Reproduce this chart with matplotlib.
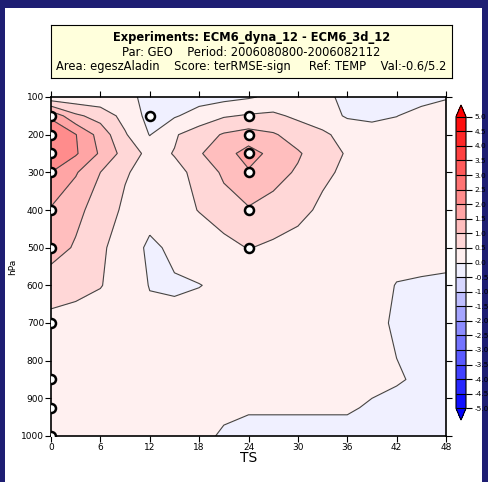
import numpy as np
import matplotlib
matplotlib.use('Agg')
import matplotlib.pyplot as plt
from matplotlib.patches import Rectangle

plt.rcParams['font.family'] = ['DejaVu Sans']

# grid of the score field
hours = [0, 3, 6, 9, 12, 15, 18, 21, 24, 27, 30, 33, 36, 39, 42, 45, 48]
levels_hpa = [100, 150, 200, 250, 300, 400, 500, 600, 700, 850, 925, 1000]

# values, one row per pressure level
score = [
    [0.15, 0.15, 0.15, 0.10, -0.10, -0.20, -0.20, -0.15, -0.05, 0.10, 0.20, 0.10, -0.10, -0.20, -0.20, -0.15, -0.05],
    [1.90, 1.10, 0.80, 0.33, -0.15, -0.05, 0.20, 0.45, 0.55, 0.60, 0.40, 0.20, -0.05, -0.10, -0.01, 0.15, 0.30],
    [2.45, 2.02, 1.30, 0.55, -0.02, 0.45, 0.75, 1.05, 1.20, 1.05, 0.80, 0.60, 0.30, 0.20, 0.20, 0.25, 0.30],
    [2.45, 2.06, 1.43, 0.80, 0.35, 0.52, 0.95, 1.30, 1.70, 1.35, 1.05, 0.75, 0.45, 0.30, 0.25, 0.25, 0.25],
    [2.00, 1.55, 1.00, 0.55, 0.30, 0.40, 0.60, 1.10, 1.45, 1.15, 0.95, 0.60, 0.40, 0.30, 0.25, 0.25, 0.25],
    [1.45, 1.12, 0.80, 0.40, 0.20, 0.30, 0.52, 0.75, 0.95, 0.85, 0.65, 0.40, 0.30, 0.25, 0.20, 0.20, 0.20],
    [1.20, 0.95, 0.57, 0.30, -0.10, 0.10, 0.20, 0.35, 0.52, 0.40, 0.30, 0.25, 0.20, 0.15, 0.10, 0.10, 0.12],
    [0.75, 0.65, 0.52, 0.30, -0.02, -0.05, -0.01, 0.07, 0.20, 0.22, 0.22, 0.20, 0.18, 0.10, -0.01, -0.03, -0.06],
    [0.35, 0.30, 0.28, 0.25, 0.12, 0.12, 0.15, 0.20, 0.20, 0.20, 0.20, 0.20, 0.20, 0.10, -0.05, -0.10, -0.16],
    [0.25, 0.25, 0.25, 0.25, 0.25, 0.25, 0.25, 0.20, 0.20, 0.20, 0.20, 0.20, 0.20, 0.10, 0.03, -0.05, -0.10],
    [0.30, 0.30, 0.30, 0.30, 0.30, 0.30, 0.20, 0.08, 0.05, 0.05, 0.05, 0.05, 0.05, -0.05, -0.10, -0.15, -0.15],
    [0.30, 0.30, 0.30, 0.30, 0.30, 0.25, 0.10, -0.05, -0.15, -0.15, -0.15, -0.15, -0.15, -0.20, -0.20, -0.20, -0.20],
]

# significant points (circles)
sig_ts = [0, 0, 0, 0, 0, 0, 0, 0, 0, 0, 12, 24, 24, 24, 24, 24, 24]
sig_p = [150, 200, 250, 300, 400, 500, 700, 850, 925, 1000, 150, 150, 200, 250, 300, 400, 500]

contour_levels = [-5.0, -4.5, -4.0, -3.5, -3.0, -2.5, -2.0, -1.5, -1.0, -0.5, 0.0,
                  0.5, 1.0, 1.5, 2.0, 2.5, 3.0, 3.5, 4.0, 4.5, 5.0]
xticks = [0, 6, 12, 18, 24, 30, 36, 42, 48]
yticks = [100, 200, 300, 400, 500, 600, 700, 800, 900, 1000]

title1 = 'Experiments: ECM6_dyna_12 - ECM6_3d_12'
title2 = 'Par: GEO    Period: 2006080800-2006082112'
title3 = 'Area: egeszAladin    Score: terRMSE-sign     Ref: TEMP    Val:-0.6/5.2'

# colours: blue extreme, 10 blue bands, 10 red bands, red extreme
blues = [((15 + i * 25) / 255, (15 + i * 25) / 255, 1.0) for i in range(10)]
reds = [(1.0, (240 - i * 25) / 255, (240 - i * 25) / 255) for i in range(10)]
band_colors = [(0, 0, 1)] + blues + reds + [(1, 0, 0)]

W, H = 488, 482
fig = plt.figure(figsize=(W / 100, H / 100), dpi=100)
fig.patch.set_facecolor('#1e1e73')
fig.patches.append(Rectangle((5 / W, 0), 477 / W, 474 / H, transform=fig.transFigure,
                             facecolor='white', edgecolor='none', zorder=-1))

# title box
tax = fig.add_axes([51 / W, 1 - 78 / H, 401 / W, 53 / H])
tax.set_facecolor('#ffffdc')
tax.set_xticks([])
tax.set_yticks([])
for s in tax.spines.values():
    s.set_linewidth(0.8)
tax.text(0.5, 0.76, title1, ha='center', va='center', fontsize=8.3, fontweight='bold', transform=tax.transAxes)
tax.text(0.5, 0.49, title2, ha='center', va='center', fontsize=8.3, transform=tax.transAxes)
tax.text(0.5, 0.22, title3, ha='center', va='center', fontsize=8.3, transform=tax.transAxes, clip_on=True)

# main axes
ax = fig.add_axes([51 / W, 1 - 436 / H, 395 / W, 339 / H])
Z = np.array(score)
cf = ax.contourf(hours, levels_hpa, Z, levels=contour_levels, colors=band_colors, extend='both')
ax.contour(hours, levels_hpa, Z, levels=contour_levels, colors='#444444', linewidths=0.8)
ax.scatter(sig_ts, sig_p, s=42, facecolor='white', edgecolor='black', linewidth=1.8, zorder=5, clip_on=True)

ax.set_xlim(0, 48)
ax.set_ylim(1000, 100)
ax.set_xticks(xticks)
ax.set_yticks(yticks)
ax.tick_params(direction='out', length=4, width=0.8, labelsize=6.5, pad=1,
               top=True, right=True, labeltop=False, labelright=False)
for s in ax.spines.values():
    s.set_linewidth(1.2)
ax.set_xlabel('TS', fontsize=10, labelpad=-1)
ax.set_ylabel('hPa', fontsize=6.5, labelpad=3)

# colour bar
cax = fig.add_axes([456 / W, 1 - 420 / H, 10 / W, 315 / H])
cb = fig.colorbar(cf, cax=cax, ticks=contour_levels, drawedges=True, extendfrac=0.04)
cb.ax.tick_params(direction='out', length=4, width=0.8, labelsize=5.3, pad=2)
cb.ax.set_yticklabels(['%.1f' % v for v in contour_levels])
cb.outline.set_linewidth(0.8)
cb.dividers.set_linewidth(0.8)

fig.savefig('out.png', dpi=100, facecolor=fig.get_facecolor())
